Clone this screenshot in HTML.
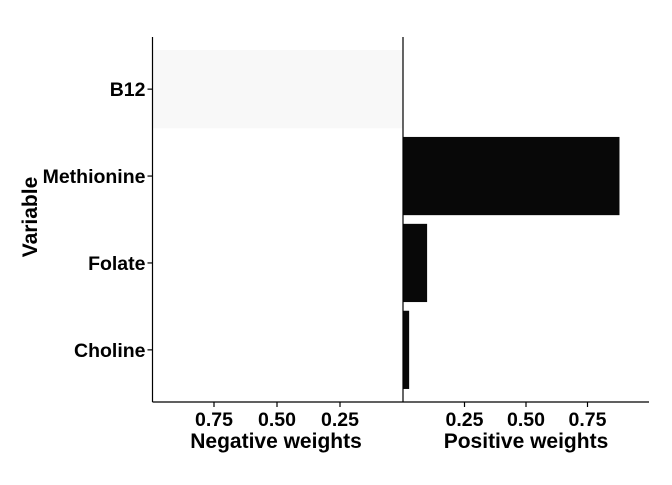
<!DOCTYPE html>
<html><head><meta charset="utf-8"><style>
body{margin:0;background:#fff}
svg text{font-family:"Liberation Sans",Arial,sans-serif;font-weight:bold;fill:#000}
</style></head><body>
<svg id="chart" width="672" height="480" xmlns="http://www.w3.org/2000/svg"></svg>
<script>
const categories = ["B12","Methionine","Folate","Choline"];
const negValues = [0.996, 0, 0, 0];
const posValues = [0, 0.88, 0.098, 0.025];
const negColors = ["#f8f8f8","#ffffff","#ffffff","#ffffff"];
const posColors = ["#ffffff","#080808","#080808","#080808"];
const tickLabels = ["0.25","0.50","0.75"];
const tickValues = [0.25,0.5,0.75];

const svg = document.getElementById('chart');
const NS = "http://www.w3.org/2000/svg";
function mk(tag, attrs, name, text){
  const e = document.createElementNS(NS, tag);
  for (const k in attrs) e.setAttribute(k, attrs[k]);
  
  
  if (text !== undefined) e.textContent = text;
  svg.appendChild(e);
  return e;
}
const plotTop = 37, plotBottom = 402, mid = 403, leftX = 152.5, rightX = 649;
const negScale = v => mid - v * 252;
const posScale = v => mid + v * 246;
const step = (plotBottom - plotTop) / (categories.length + 0.2);
const yCenter = i => plotTop + step * 0.6 + step * i;
const barH = step * 0.9;

categories.forEach((c, i) => {
  if (negValues[i] > 0) {
    mk('rect', {x: negScale(negValues[i]), y: yCenter(i) - barH/2, width: mid - negScale(negValues[i]), height: barH, fill: negColors[i]}, 'neg-bar-' + c.toLowerCase());
  }
  if (posValues[i] > 0) {
    mk('rect', {x: mid, y: yCenter(i) - barH/2, width: posScale(posValues[i]) - mid, height: barH, fill: posColors[i]}, 'pos-bar-' + c.toLowerCase());
  }
  mk('line', {x1: leftX - 5, x2: leftX, y1: yCenter(i), y2: yCenter(i), stroke: '#000', 'stroke-width': 1.2}, 'y-tick');
  mk('text', {x: leftX - 7, y: yCenter(i) + 7, 'text-anchor': 'end', 'font-size': 19.5}, 'y-label-' + c.toLowerCase(), c);
});
mk('line', {x1: leftX, x2: leftX, y1: plotTop, y2: plotBottom, stroke: '#000', 'stroke-width': 1.2}, 'y-axis-line');
mk('line', {x1: mid, x2: mid, y1: plotTop, y2: plotBottom, stroke: '#000', 'stroke-width': 1.2}, 'center-axis-line');
mk('line', {x1: leftX, x2: rightX, y1: plotBottom, y2: plotBottom, stroke: '#000', 'stroke-width': 1.2}, 'x-axis-line');
tickValues.forEach((v, i) => {
  const xn = negScale(v), xp = posScale(v);
  mk('line', {x1: xn, x2: xn, y1: plotBottom, y2: plotBottom + 5, stroke: '#000', 'stroke-width': 1.2}, 'neg-x-tick');
  mk('text', {x: xn, y: plotBottom + 24, 'text-anchor': 'middle', 'font-size': 19.5}, 'neg-x-tick-label', tickLabels[i]);
  mk('line', {x1: xp, x2: xp, y1: plotBottom, y2: plotBottom + 5, stroke: '#000', 'stroke-width': 1.2}, 'pos-x-tick');
  mk('text', {x: xp, y: plotBottom + 24, 'text-anchor': 'middle', 'font-size': 19.5}, 'pos-x-tick-label', tickLabels[i]);
});
mk('text', {x: 276, y: 448, 'text-anchor': 'middle', 'font-size': 21}, 'negative-x-axis-title', 'Negative weights');
mk('text', {x: 526, y: 448, 'text-anchor': 'middle', 'font-size': 21}, 'positive-x-axis-title', 'Positive weights');
mk('text', {x: 0, y: 0, 'text-anchor': 'middle', 'font-size': 21, transform: 'translate(37,217) rotate(-90)'}, 'y-axis-title', 'Variable');
</script>
</body></html>
